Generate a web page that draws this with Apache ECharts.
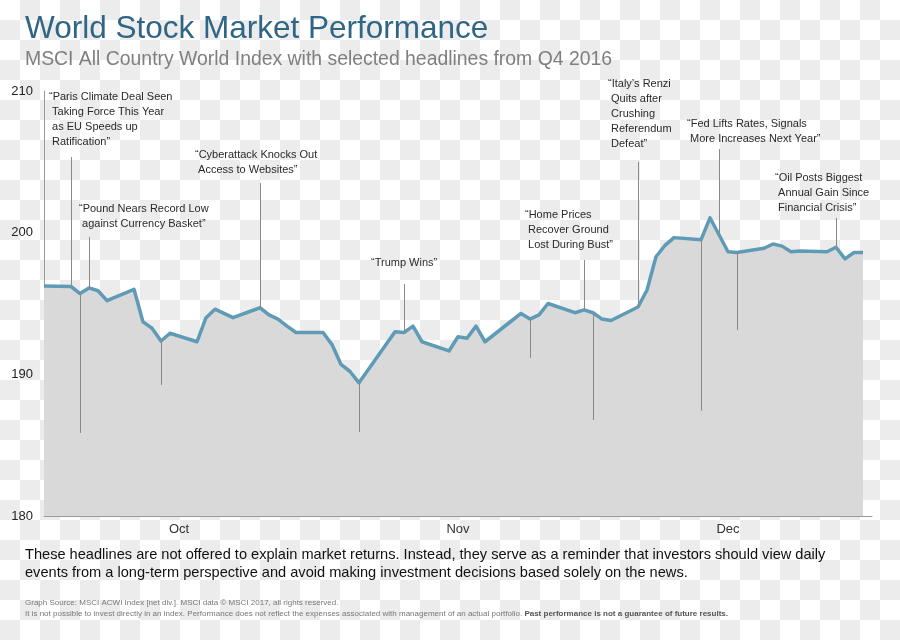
<!DOCTYPE html>
<html>
<head>
<meta charset="utf-8">
<script src="https://cdn.jsdelivr.net/npm/echarts@6/dist/echarts.min.js"></script>
<style>
html,body{margin:0;padding:0;width:900px;height:640px;overflow:hidden;
background-color:#ffffff;
background-image:linear-gradient(45deg,#ececec 25%,transparent 25%,transparent 75%,#ececec 75%),linear-gradient(45deg,#ececec 25%,transparent 25%,transparent 75%,#ececec 75%);
background-size:40px 40px;background-position:0 0,20px 20px;}
#chart{width:900px;height:640px;}
</style>
</head>
<body>
<div id="chart"></div>
<script>
// ---- Data ----
const tradeDates = [
 '2016-09-30','2016-10-03','2016-10-04','2016-10-05','2016-10-06','2016-10-07',
 '2016-10-10','2016-10-11','2016-10-12','2016-10-13','2016-10-14',
 '2016-10-17','2016-10-18','2016-10-19','2016-10-20','2016-10-21',
 '2016-10-24','2016-10-25','2016-10-26','2016-10-27','2016-10-28',
 '2016-10-31','2016-11-01','2016-11-02','2016-11-03','2016-11-04',
 '2016-11-07','2016-11-08','2016-11-09','2016-11-10','2016-11-11',
 '2016-11-14','2016-11-15','2016-11-16','2016-11-17','2016-11-18',
 '2016-11-21','2016-11-22','2016-11-23','2016-11-24','2016-11-25',
 '2016-11-28','2016-11-29','2016-11-30','2016-12-01','2016-12-02',
 '2016-12-05','2016-12-06','2016-12-07','2016-12-08','2016-12-09',
 '2016-12-12','2016-12-13','2016-12-14','2016-12-15','2016-12-16',
 '2016-12-19','2016-12-20','2016-12-21','2016-12-22','2016-12-23',
 '2016-12-26','2016-12-27','2016-12-28','2016-12-29','2016-12-30'
];
const indexValues = [
 196.24,196.2,195.7,196.1,195.9,195.2,
 196.0,193.7,193.25,192.35,192.9,
 192.3,194.0,194.6,194.3,194.0,
 194.7,194.2,193.9,193.4,192.95,
 192.95,192.1,190.7,190.2,189.4,
 192.1,193.0,192.95,193.4,192.3,
 191.65,192.65,192.55,193.4,192.3,
 193.8,194.3,193.9,194.2,195.0,
 194.35,194.55,194.35,193.9,193.8,
 194.75,195.95,198.3,199.1,199.65,
 199.5,201.05,199.85,198.65,198.6,
 198.9,199.2,199.05,198.65,198.7,
 198.65,198.97,198.15,198.6,198.6
];
const yTicks = [180, 190, 200, 210];
const monthLabels = {'10':'Oct','11':'Nov','12':'Dec'};

// Headlines: date they point at, and the value where the leader line ends
const headlineDates = ['2016-10-03','2016-10-05','2016-10-24','2016-10-13','2016-10-04',
 '2016-11-04','2016-11-09','2016-11-23','2016-11-29','2016-11-30',
 '2016-12-05','2016-12-12','2016-12-14','2016-12-16','2016-12-27'];
const headlineEnds = [205.34,199.7,203.5,189.25,185.86,
 185.93,196.38,191.16,198.07,186.78,
 204.99,187.42,205.9,193.13,201.04];
const headlineTexts = [
 '\u201CParis Climate Deal Seen\n Taking Force This Year\n as EU Speeds up\n Ratification\u201D',
 '\u201CPound Nears Record Low\n against Currency Basket\u201D',
 '\u201CCyberattack Knocks Out\n Access to Websites\u201D',
 '\u201CUS Jobless Claims Hold\n at Four-Decade Low\u201D',
 '\u201CGlobal Inflation\n Falls to Seven-\n Year Low\u201D',
 '\u201CS&P 500 Falls for Ninth\n Session in Longest Losing\n Streak since 1980\u201D',
 '\u201CTrump Wins\u201D',
 '\u201CDollar Reaches\n a 14-Year High\u201D',
 '\u201CHome Prices\n Recover Ground\n Lost During Bust\u201D',
 '\u201CEurozone\n Inflation Rate\n Highest since\n April 2014\u201D',
 '\u201CItaly\u2019s Renzi\n Quits after\n Crushing\n Referendum\n Defeat\u201D',
 '\u201COil Surges as\n More Producers\n Join Output Cuts\u201D',
 '\u201CFed Lifts Rates, Signals\n More Increases Next Year\u201D',
 '\u201CJapan Dethrones\n China as Top US\n Foreign Creditor\u201D',
 '\u201COil Posts Biggest\n Annual Gain Since\n Financial Crisis\u201D'
];
// layout (pixel position of each headline's text block: left, top)
const headlineBoxes = [[49,89],[79,201],[195,147],[107,385],[63,437],
 [291,433],[371,255],[486,369],[525,207],[557,423],
 [608,76],[664,416],[687,116],[711,334],[775,170]];

// ---- Build calendar-day category axis ----
const days = [];
for (let t = Date.UTC(2016,8,30); t <= Date.UTC(2016,11,31); t += 86400000) {
  days.push(new Date(t).toISOString().slice(0,10));
}
const valueByDate = {};
tradeDates.forEach((d,i)=>{ valueByDate[d] = indexValues[i]; });
const seriesData = days.map(d => (d in valueByDate) ? valueByDate[d] : null);

const leaderData = headlineDates.map((d,i)=>[
  {coord:[d, valueByDate[d]]},
  {coord:[d, headlineEnds[i]]}
]);

const FONT = 'Liberation Sans, Arial, sans-serif';
const graphics = [
  {type:'text', x:25, y:29, style:{text:'World Stock Market Performance', font:'31.5px '+FONT, fill:'#2f6585', verticalAlign:'middle'}},
  {type:'text', x:25, y:60, style:{text:'MSCI All Country World Index with selected headlines from Q4 2016', font:'19.4px '+FONT, fill:'#7f7f7f', verticalAlign:'middle'}},
  {type:'text', x:25, y:555, style:{text:'These headlines are not offered to explain market returns. Instead, they serve as a reminder that investors should view daily', font:'14.6px '+FONT, fill:'#111', verticalAlign:'middle'}},
  {type:'text', x:25, y:573, style:{text:'events from a long-term perspective and avoid making investment decisions based solely on the news.', font:'14.6px '+FONT, fill:'#111', verticalAlign:'middle'}},
  {type:'text', x:25, y:603, style:{text:'Graph Source: MSCI ACWI Index [net div.]. MSCI data \u00A9 MSCI 2017, all rights reserved.', font:'8px '+FONT, fill:'#777', verticalAlign:'middle'}},
  {type:'text', x:25, y:614, style:{
    text:'{n|It is not possible to invest directly in an index. Performance does not reflect the expenses associated with management of an actual portfolio. }{b|Past performance is not a guarantee of future results.}',
    verticalAlign:'middle',
    rich:{n:{font:'8px '+FONT, fill:'#777'}, b:{font:'bold 8px '+FONT, fill:'#555'}}}}
];
headlineTexts.forEach((t,i)=>{
  graphics.push({type:'text', x:headlineBoxes[i][0], y:headlineBoxes[i][1],
    style:{text:t, font:'11px '+FONT, fill:'#2a2a2a', lineHeight:15, verticalAlign:'top'}});
});

const chart = echarts.init(document.getElementById('chart'), null, {renderer:'canvas'});
chart.setOption({
  animation:false,
  backgroundColor:'transparent',
  grid:{left:44, right:28, top:91, bottom:124, containLabel:false},
  xAxis:{
    type:'category', data:days, boundaryGap:false,
    axisLine:{show:true, lineStyle:{color:'#9a9a9a', width:1}},
    axisTick:{show:false},
    splitLine:{show:false},
    axisLabel:{
      interval:(idx,val)=>val.slice(8)==='15',
      formatter:(val)=>monthLabels[val.slice(5,7)] || '',
      color:'#333', fontSize:13, fontFamily:FONT, margin:7
    }
  },
  yAxis:{
    type:'value', min:yTicks[0], max:yTicks[yTicks.length-1], interval:10,
    axisLine:{show:true, lineStyle:{color:'#9a9a9a', width:1}},
    axisTick:{show:false},
    splitLine:{show:false},
    axisLabel:{color:'#222', fontSize:13, fontFamily:FONT, margin:11}
  },
  series:[{
    type:'line', data:seriesData, connectNulls:true,
    symbol:'none', smooth:false,
    lineStyle:{color:'#5f9bb6', width:3.5, join:'round'},
    areaStyle:{color:'#d9d9d9', opacity:1, origin:'start'},
    markLine:{
      silent:true, symbol:['none','none'], animation:false,
      label:{show:false},
      lineStyle:{color:'#8a8a8a', width:1, type:'solid'},
      emphasis:{disabled:true},
      data:leaderData
    }
  }],
  graphic:graphics
});
</script>
</body>
</html>
